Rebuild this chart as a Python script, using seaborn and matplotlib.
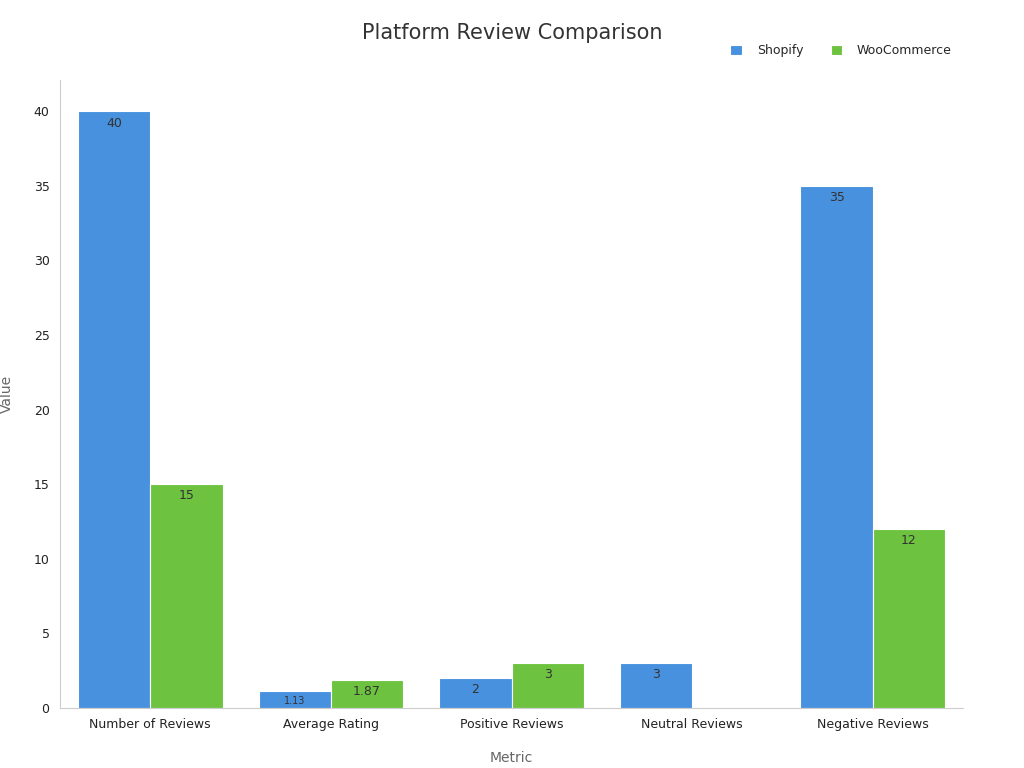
import matplotlib
matplotlib.use("Agg")
import matplotlib.pyplot as plt
import seaborn as sns
import pandas as pd

metrics = ["Number of Reviews", "Average Rating", "Positive Reviews", "Neutral Reviews", "Negative Reviews"]
shopify = [40, 1.13, 2, 3, 35]
woo = [15, 1.87, 3, 0, 12]
platforms = ["Shopify", "WooCommerce"]
colors = ["#2e91f8", "#66d929"]

df = pd.DataFrame({
    "Metric": metrics * 2,
    "Value": shopify + woo,
    "Platform": ["Shopify"] * len(metrics) + ["WooCommerce"] * len(metrics),
})

sns.set_style("white")
plt.rcParams["font.family"] = ["DejaVu Sans"]
fig = plt.figure(figsize=(10.24, 7.68), dpi=100)
ax = fig.add_axes([60 / 1024, 60 / 768, 903 / 1024, 628 / 768])

sns.barplot(data=df, x="Metric", y="Value", hue="Platform", palette=colors,
            width=0.8, edgecolor="white", linewidth=0.8, ax=ax)

ax.set_xlim(-0.5, 4.5)
ax.set_ylim(0, 42.1)
ax.set_yticks(range(0, 41, 5))
for s in ["top", "right"]:
    ax.spines[s].set_visible(False)
for s in ["left", "bottom"]:
    ax.spines[s].set_color("#cccccc")
ax.tick_params(axis="both", length=4, color="#999999", labelsize=9, labelcolor="#222222")
ax.set_xlabel("Metric", fontsize=10, color="#666666", labelpad=14)
ax.set_ylabel("Value", fontsize=10, color="#666666", labelpad=14)

for cont in ax.containers:
    for bar in cont:
        h = bar.get_height()
        if h <= 0:
            continue
        fs = 7 if h < 1.5 and bar.get_x() < 1 else 9
        ax.text(bar.get_x() + bar.get_width() / 2, h - 0.35, f"{h:g}",
                ha="center", va="top", fontsize=fs, color="#333333")

ax.legend(loc="upper right", bbox_to_anchor=(1.0, 1.075), ncol=2, frameon=False,
          fontsize=9, handlelength=0.9, handleheight=0.9, columnspacing=2.2, handletextpad=1.2)
fig.text(0.5, 0.957, "Platform Review Comparison", ha="center", va="center", fontsize=15, color="#333333")

fig.savefig("out.png", dpi=100)
